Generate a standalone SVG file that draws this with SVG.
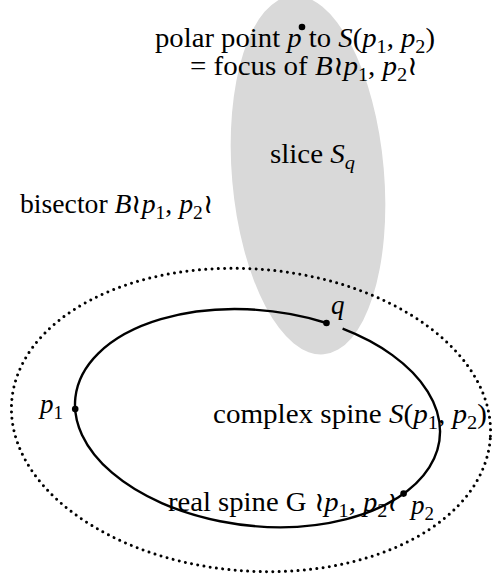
<svg xmlns="http://www.w3.org/2000/svg" width="500" height="582" viewBox="0 0 500 582">
<style>
.t{font-family:"Liberation Serif","DejaVu Serif",serif;font-size:27px;fill:#000}
.i{font-style:italic}
.s{font-size:19px}
.dot{fill:#000}
</style>
<rect width="500" height="582" fill="#fff"/>
<g id="slice">
<ellipse cx="308" cy="175" rx="76" ry="180" transform="rotate(-5 308 175)" fill="#d9d9d9"/>
</g>
<g id="connectors">
<ellipse id="bisector-curve" cx="251" cy="420" rx="240" ry="151" transform="rotate(4.5 251 420)" fill="none" stroke="#000" stroke-width="3" stroke-linecap="round" stroke-dasharray="0 6.3"/>
<path id="real-spine" d="M326.5 323 A183.3 107.7 6.45 0 0 75.4 397.4 A183.3 107.7 6.45 1 0 342.6 328.7" fill="none" stroke="#000" stroke-width="2.4"/>
</g>
<g id="p"><circle class="dot" cx="302" cy="27" r="3.3"/></g>
<g id="q"><circle class="dot" cx="326.5" cy="323" r="3.3"/><text class="t i" x="331" y="314">q</text></g>
<g id="p1"><circle class="dot" cx="75.2" cy="409.1" r="3.3"/><text class="t" x="40" y="413"><tspan class="i">p</tspan><tspan class="s" dy="6">1</tspan></text></g>
<g id="p2"><circle class="dot" cx="403.6" cy="493.6" r="3.3"/><text class="t" x="411" y="514"><tspan class="i">p</tspan><tspan class="s" dy="6">2</tspan></text></g>
<g id="labels">
<text class="t" x="155" y="47" textLength="280" lengthAdjust="spacingAndGlyphs">polar point <tspan class="i">p</tspan> to <tspan class="i">S</tspan>(<tspan class="i">p</tspan><tspan class="s" dy="6">1</tspan><tspan dy="-6">, </tspan><tspan class="i">p</tspan><tspan class="s" dy="6">2</tspan><tspan dy="-6">)</tspan></text>
<text class="t" x="190" y="75" textLength="228" lengthAdjust="spacingAndGlyphs">= focus of <tspan class="i">B</tspan>≀<tspan class="i">p</tspan><tspan class="s" dy="6">1</tspan><tspan dy="-6">, </tspan><tspan class="i">p</tspan><tspan class="s" dy="6">2</tspan><tspan dy="-6">≀</tspan></text>
<text class="t" x="270" y="163" textLength="85" lengthAdjust="spacingAndGlyphs">slice <tspan class="i">S</tspan><tspan class="s i" dy="6">q</tspan></text>
<text class="t" x="20" y="213" textLength="193" lengthAdjust="spacingAndGlyphs">bisector <tspan class="i">B</tspan>≀<tspan class="i">p</tspan><tspan class="s" dy="6">1</tspan><tspan dy="-6">, </tspan><tspan class="i">p</tspan><tspan class="s" dy="6">2</tspan><tspan dy="-6">≀</tspan></text>
<text class="t" x="213" y="423" textLength="274" lengthAdjust="spacingAndGlyphs">complex spine <tspan class="i">S</tspan>(<tspan class="i">p</tspan><tspan class="s" dy="6">1</tspan><tspan dy="-6">, </tspan><tspan class="i">p</tspan><tspan class="s" dy="6">2</tspan><tspan dy="-6">)</tspan></text>
<text class="t" x="168" y="511" textLength="230" lengthAdjust="spacingAndGlyphs">real spine G ≀<tspan class="i">p</tspan><tspan class="s" dy="6">1</tspan><tspan dy="-6">, </tspan><tspan class="i">p</tspan><tspan class="s" dy="6">2</tspan><tspan dy="-6">≀</tspan></text>
</g>
</svg>
